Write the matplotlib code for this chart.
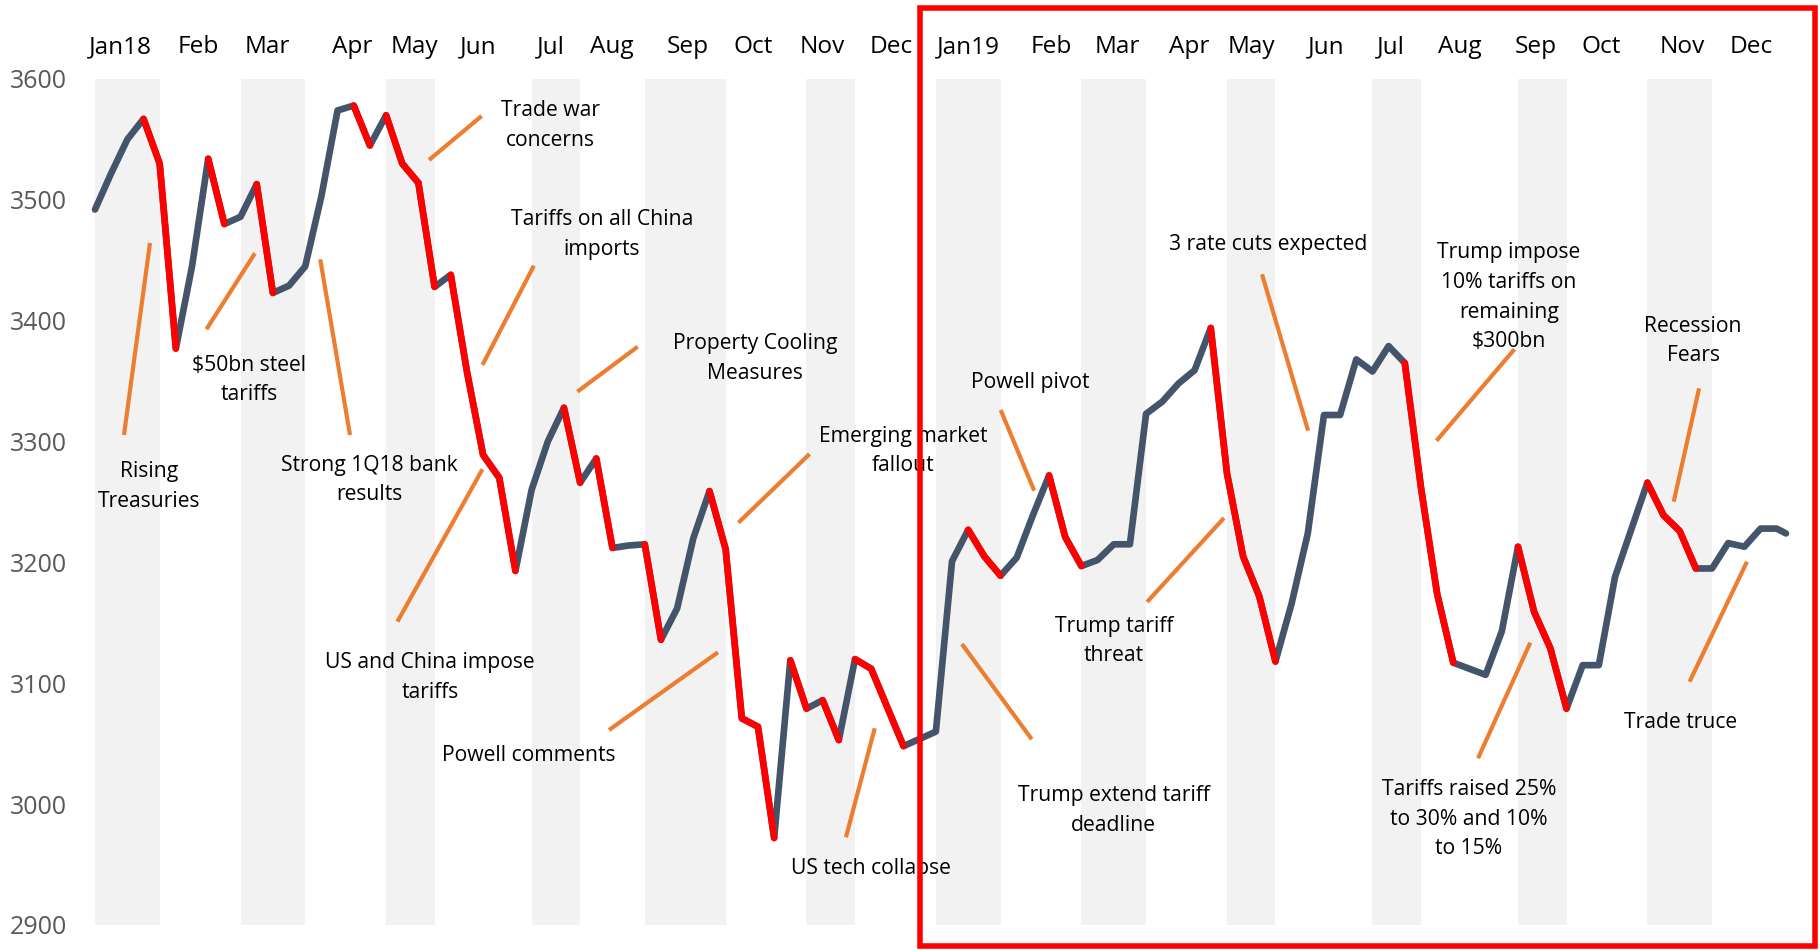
import matplotlib
matplotlib.use("Agg")
import matplotlib.pyplot as plt
import matplotlib.transforms as mtransforms
from matplotlib.patches import Rectangle
import numpy as np
import pandas as pd

plt.rcParams['font.family'] = ['Open Sans', 'DejaVu Sans']

# Weekly closes, 2018-2019 (last point is the year-end close)
dates = pd.date_range("2017-12-29", periods=105, freq="7D").append(
    pd.DatetimeIndex(["2019-12-31"]))
index_level = [
    3492, 3522, 3550, 3567, 3530, 3377, 3445, 3534, 3480, 3486,
    3513, 3423, 3429, 3445, 3503, 3574, 3578, 3545, 3570, 3530,
    3514, 3428, 3438, 3358, 3289, 3270, 3193, 3260, 3300, 3328,
    3266, 3286, 3212, 3214, 3215, 3136, 3162, 3220, 3259, 3211,
    3071, 3064, 2972, 3119, 3079, 3086, 3053, 3120, 3112, 3080,
    3048, 3054, 3060, 3201, 3227, 3205, 3189, 3204, 3239, 3272,
    3221, 3197, 3202, 3215, 3215, 3323, 3333, 3348, 3359, 3394,
    3274, 3205, 3172, 3118, 3166, 3224, 3322, 3322, 3368, 3358,
    3379, 3365, 3262, 3174, 3117, 3112, 3107, 3143, 3213, 3159,
    3129, 3079, 3115, 3115, 3188, 3227, 3266, 3239, 3226, 3195,
    3195, 3216, 3213, 3228, 3228, 3224,
]

# Sell-off runs (first week, last week) drawn in red
selloffs = [(3, 5), (7, 8), (10, 11), (16, 17), (18, 21), (22, 26), (29, 30),
            (31, 32), (34, 35), (38, 42), (43, 44), (45, 46), (47, 50),
            (54, 56), (59, 61), (69, 73), (81, 84), (88, 91), (96, 99)]

# Month labels along the top and the shaded odd months (in weeks)
month_labels = ["Jan18", "Feb", "Mar", "Apr", "May", "Jun", "Jul", "Aug",
                "Sep", "Oct", "Nov", "Dec", "Jan19", "Feb", "Mar", "Apr",
                "May", "Jun", "Jul", "Aug", "Sep", "Oct", "Nov", "Dec"]
month_label_weeks = [1.55, 6.37, 10.64, 15.89, 19.73, 23.69, 28.20, 31.97,
                     36.67, 40.69, 44.96, 49.23, 53.99, 59.12, 63.20, 67.66,
                     71.49, 76.13, 80.15, 84.42, 89.12, 93.14, 98.15, 102.41]
shaded_months = [(0, 4), (9, 13), (18, 21), (27, 30), (34, 39), (44, 47),
                 (52, 56), (61, 65), (70, 73), (79, 82), (88, 91), (96, 100)]

# Event call-outs: text, text anchor (week, level), leader line
event_text = [
    "Rising\nTreasuries", "$50bn steel\ntariffs", "Strong 1Q18 bank\nresults",
    "Trade war\nconcerns", "Tariffs on all China\nimports",
    "Property Cooling\nMeasures", "US and China impose\ntariffs",
    "Powell comments", "Emerging market\nfallout", "US tech collapse",
    "Powell pivot", "Trump tariff\nthreat", "Trump extend tariff\ndeadline",
    "3 rate cuts expected", "Trump impose\n10% tariffs on\nremaining\n$300bn",
    "Recession\nFears", "Tariffs raised 25%\nto 30% and 10%\nto 15%",
    "Trade truce",
]
event_anchor = [
    (3.34, 3270.7), (9.55, 3358.6), (16.98, 3275.9), (28.14, 3569.4),
    (31.35, 3479.2), (40.82, 3376.4), (20.72, 3112.4), (26.84, 3036.0),
    (49.97, 3299.9), (47.99, 2942.2), (57.82, 3344.1), (63.02, 3142.7),
    (62.99, 3002.6), (72.54, 3458.5), (87.45, 3451.6), (98.83, 3390.9),
    (84.97, 3007.6), (98.08, 3062.8),
]
event_leader = [
    ((1.79, 3305.4), (3.40, 3464.3)), ((6.89, 3392.9), (9.89, 3455.8)),
    ((15.77, 3305.4), (13.93, 3450.8)), ((20.66, 3533.0), (23.91, 3569.4)),
    ((23.96, 3363.4), (27.14, 3445.5)), ((29.83, 3341.3), (33.56, 3378.5)),
    ((18.70, 3151.0), (23.96, 3277.1)), ((31.79, 3061.4), (38.52, 3125.6)),
    ((39.79, 3232.9), (44.19, 3289.7)), ((46.44, 2972.6), (48.22, 3062.8)),
    ((56.01, 3326.1), (58.08, 3259.4)), ((65.06, 3167.3), (69.82, 3236.8)),
    ((53.61, 3132.5), (57.93, 3053.7)), ((72.17, 3438.4), (75.02, 3309.0)),
    ((82.96, 3300.7), (87.78, 3376.4)), ((99.20, 3344.1), (97.63, 3250.3)),
    ((85.53, 3038.0), (88.76, 3133.6)), ((98.61, 3101.3), (102.16, 3200.6)),
]

DARK = "#44546A"
RED = "#FF0000"
ORANGE = "#ED7D31"
BAND = "#F2F2F2"

W, H = 1820, 950
fig = plt.figure(figsize=(W / 100, H / 100), dpi=100)
ax = fig.add_axes([79 / W, (H - 925) / H, (1800 - 79) / W, 846 / H])

weeks = np.asarray((dates - dates[0]).days, dtype=float) / 7.0
level = np.asarray(index_level, dtype=float)

for a, b in shaded_months:
    ax.axvspan(a, b, color=BAND, lw=0, zorder=0)

line_kw = dict(lw=4.8, solid_joinstyle="round", solid_capstyle="round")
ax.plot(weeks, level, color=DARK, zorder=3, **line_kw)
for a, b in selloffs:
    ax.plot(weeks[a:b + 1], level[a:b + 1], color=RED, zorder=4, **line_kw)

pitch_pt = 21.3
for txt, (tx, ty), ((x0, y0), (x1, y1)) in zip(event_text, event_anchor, event_leader):
    ax.plot([x0, x1], [y0, y1], color=ORANGE, lw=3.0, solid_capstyle="butt", zorder=2)
    for i, part in enumerate(txt.split("\n")):
        tr = mtransforms.offset_copy(ax.transData, fig=fig, y=-i * pitch_pt, units="points")
        ax.text(tx, ty, part, transform=tr, ha="center", va="baseline",
                fontsize=15.2, color="#000000", zorder=5)

ax.set_xlim(-0.99, 105.44)
ax.set_ylim(2900, 3600)
ax.set_yticks(range(2900, 3601, 100))
ax.set_xticks([])
ax.tick_params(axis="y", length=0, pad=8.6, labelsize=18, labelcolor="#595959")
for s in ax.spines.values():
    s.set_visible(False)

top_tr = mtransforms.blended_transform_factory(ax.transData, fig.transFigure)
for lab, wk in zip(month_labels, month_label_weeks):
    ax.text(wk, 1 - 53.3 / H, lab, transform=top_tr, ha="center", va="baseline",
            fontsize=17.6, color="#000000", clip_on=False)

# Frame around 2019
frame = Rectangle((920 / W, 1 - 946 / H), (1815 - 920) / W, (946 - 8) / H,
                  transform=fig.transFigure, fill=False, edgecolor=RED, lw=4.0,
                  zorder=10)
fig.add_artist(frame)

fig.savefig("out.png", dpi=100)
